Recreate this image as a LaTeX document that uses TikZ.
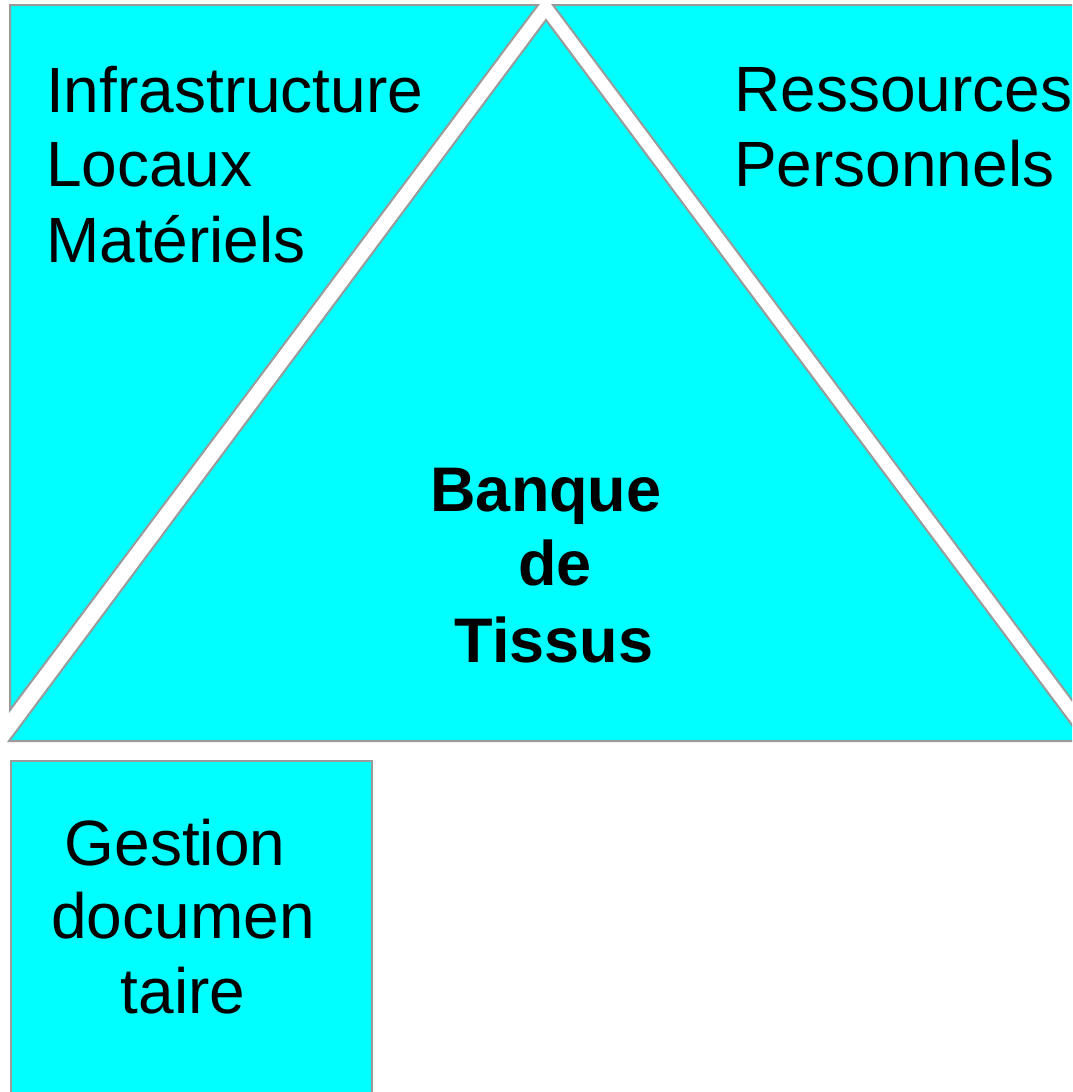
\documentclass[tikz,border=0pt]{standalone}
\usepackage{fontspec}
\setmainfont{Liberation Sans}
\definecolor{fillc}{HTML}{00FFFF}
\definecolor{edgec}{HTML}{9A9A9A}
\begin{document}
\begin{tikzpicture}[x=1pt,y=-1pt,
  shapeblk/.style={fill=fillc,draw=edgec,line width=2pt,line join=miter},
  lbl/.style={inner sep=0pt,font=\fontsize{64}{75}\selectfont},
  blbl/.style={inner sep=0pt,font=\fontsize{63}{75}\selectfont\bfseries}]
\useasboundingbox (0,0) rectangle (1072,1092);
\clip (0,0) rectangle (1072,1092);
% shapes
\path[shapeblk] (10,5) -- (538,5) -- (10,710) -- cycle;
\path[shapeblk] (553,5) -- (1110,5) -- (1110,751) -- cycle;
\path[shapeblk] (546,20) -- (9,741) -- (1084,741) -- cycle;
\path[shapeblk] (11,761) rectangle (372,1110);
% texts
\node[lbl,anchor=base west] (infra) at (46,112) {Infrastructure};
\node[lbl,anchor=base west] (locaux) at (46,186) {Locaux};
\node[lbl,anchor=base west] (mat) at (46,262) {Matériels};
\node[lbl,anchor=base west] (ress) at (734,111) {Ressources};
\node[lbl,anchor=base west] (pers) at (734,186) {Personnels};
\node[blbl,anchor=base] (banque) at (546,511) {Banque};
\node[blbl,anchor=base] (de) at (555,585) {de};
\node[blbl,anchor=base] (tissus) at (554,662) {Tissus};
\node[lbl,anchor=base] (gestion) at (175,865) {Gestion};
\node[lbl,anchor=base] (documen) at (183,938) {documen};
\node[lbl,anchor=base] (taire) at (183,1013) {taire};
\end{tikzpicture}
\end{document}
